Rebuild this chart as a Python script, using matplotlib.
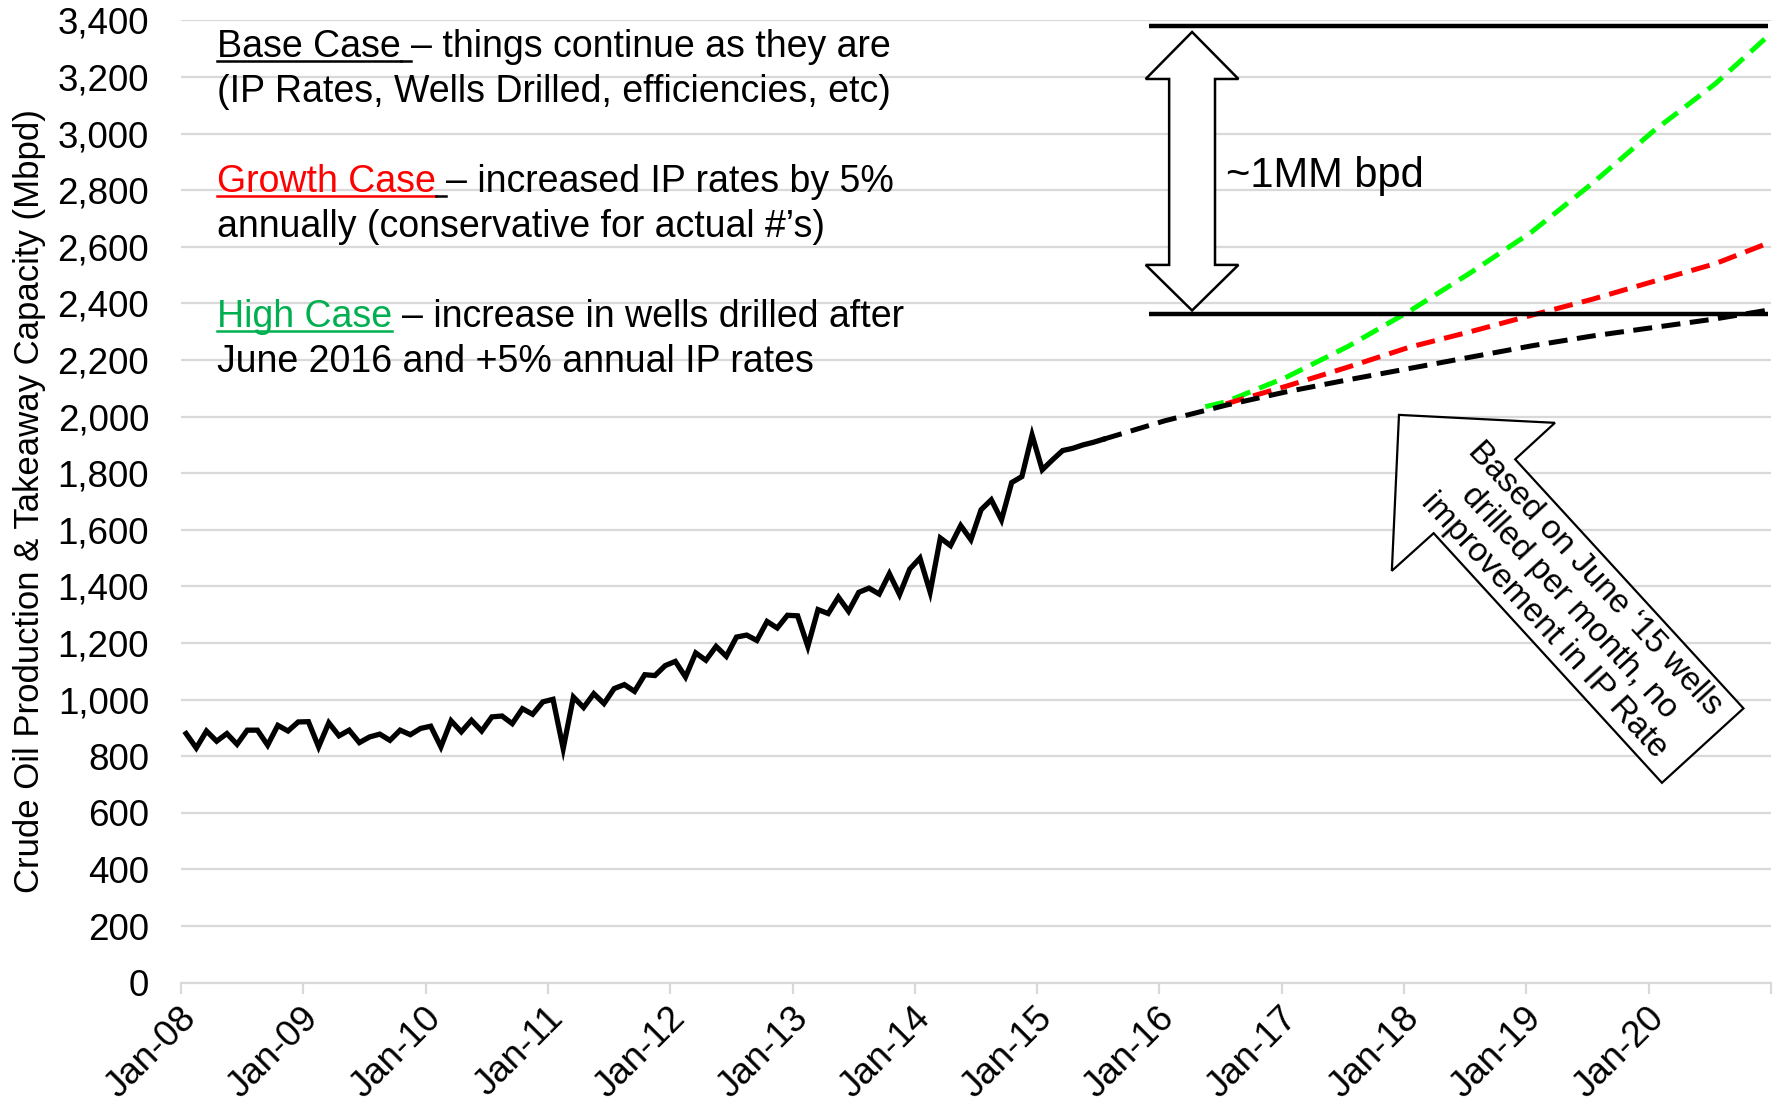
import numpy as np
import matplotlib
matplotlib.use("Agg")
import matplotlib.pyplot as plt
from matplotlib.patches import Polygon
from matplotlib.lines import Line2D
from matplotlib.transforms import ScaledTranslation

plt.rcParams['font.family'] = ['Liberation Sans', 'DejaVu Sans']

# monthly production, Jan-08 .. Jul-15 (Mbpd)
hist = [880, 829, 889, 853, 880, 842, 892, 892, 839, 909, 889, 921,
        922, 833, 918, 872, 892, 848, 868, 878, 856, 892, 876, 898,
        906, 833, 925, 886, 927, 889, 939, 942, 915, 968, 948, 992,
        1001, 827, 1009, 972, 1021, 986, 1039, 1053, 1029, 1088, 1085, 1120,
        1135, 1080, 1165, 1139, 1188, 1153, 1221, 1228, 1209, 1276, 1253, 1298,
        1296, 1188, 1318, 1304, 1362, 1312, 1379, 1394, 1373, 1445, 1371, 1461,
        1500, 1380, 1571, 1544, 1615, 1565, 1671, 1706, 1635, 1767, 1788, 1935,
        1812, 1847, 1880, 1888, 1900, 1909, 1920]

# projections (month index from Jan-08)
base_m = [90, 96, 102, 108, 114, 120, 126, 132, 138, 144, 150, 155]
base_v = [1920, 1985, 2040, 2088, 2130, 2170, 2210, 2250, 2285, 2315, 2345, 2375]
growth_m = [102, 108, 114, 120, 126, 132, 138, 144, 150, 155]
growth_v = [2045, 2108, 2175, 2245, 2300, 2358, 2415, 2478, 2540, 2610]
high_m = [100, 102, 108, 114, 120, 126, 132, 138, 144, 150, 155]
high_v = [2035, 2052, 2140, 2248, 2372, 2508, 2652, 2825, 3010, 3175, 3338]

year_labels = ['Jan-08', 'Jan-09', 'Jan-10', 'Jan-11', 'Jan-12', 'Jan-13', 'Jan-14',
               'Jan-15', 'Jan-16', 'Jan-17', 'Jan-18', 'Jan-19', 'Jan-20', '']

# takeaway capacity levels
cap_low = 2362
cap_high = 3380

W, H = 1777, 1109
fig = plt.figure(figsize=(W / 100, H / 100), dpi=100)
ax = fig.add_axes([181 / W, 1 - 982.6 / H, 1590 / W, 962.2 / H])

GRID = '#D9D9D9'
off = 0.5

ax.plot(np.arange(len(hist)) + off, hist, color='black', lw=3.8, solid_joinstyle='miter', zorder=5)
ax.plot(np.array(high_m) + off, high_v, color='#00FF00', lw=3.6, dashes=(3.8, 1.9),
        dash_capstyle='butt', zorder=3)
ax.plot(np.array(growth_m) + off, growth_v, color='#FF0000', lw=3.6, dashes=(3.8, 1.9),
        dash_capstyle='butt', zorder=4)
ax.plot(np.array(base_m) + off, base_v, color='black', lw=3.6, dashes=(3.8, 1.9),
        dash_capstyle='butt', zorder=5)

ax.set_xlim(0, 156)
ax.set_ylim(0, 3400)
ax.set_yticks(np.arange(0, 3401, 200))
ax.set_yticklabels(['{:,}'.format(v) for v in range(0, 3401, 200)])
ax.set_xticks(np.arange(0, 157, 12))
ax.set_xticklabels(year_labels, rotation=45, ha='right', va='center', rotation_mode='anchor')
ax.grid(axis='y', color=GRID, lw=1.6)
ax.set_axisbelow(True)
for s in ['top', 'right', 'left']:
    ax.spines[s].set_visible(False)
ax.spines['bottom'].set_color(GRID)
ax.spines['bottom'].set_linewidth(1.6)
ax.tick_params(axis='y', length=0, pad=23, labelsize=26.5)
ax.tick_params(axis='x', length=8, width=1.6, color=GRID, pad=14, labelsize=26.5)
for lab in ax.get_xticklabels():
    lab.set_transform(lab.get_transform() + ScaledTranslation(0.10, 0, fig.dpi_scale_trans))

ax.set_ylabel('Crude Oil Production & Takeaway Capacity (Mbpd)', fontsize=25)
ax.yaxis.set_label_coords(-0.085, 0.5)

# capacity lines and the double arrow
ax.plot([95, 155.7], [cap_high, cap_high], color='black', lw=3.2, solid_capstyle='butt', clip_on=False, zorder=6)
ax.plot([95, 155.7], [cap_low, cap_low], color='black', lw=3.2, solid_capstyle='butt', clip_on=False, zorder=6)

cx, hw, sw = 99.2, 4.55, 2.25
tip_top, base_top, base_bot, tip_bot = 3359, 3193, 2536, 2375
arrow_pts = [(cx, tip_top), (cx + hw, base_top), (cx + sw, base_top), (cx + sw, base_bot),
             (cx + hw, base_bot), (cx, tip_bot), (cx - hw, base_bot), (cx - sw, base_bot),
             (cx - sw, base_top), (cx - hw, base_top)]
ax.add_patch(Polygon(arrow_pts, closed=True, facecolor='white', edgecolor='black', lw=1.8, zorder=7))
ax.text(102.5, 2812, '~1MM bpd', fontsize=30, va='baseline', ha='left', zorder=8)

# block arrow with note
block_pts = [(119.5, 2006), (134.8, 1978), (130.9, 1849), (153.3, 969),
             (145.3, 706), (122.9, 1588), (118.8, 1455)]
ax.add_patch(Polygon(block_pts, closed=True, facecolor='white', edgecolor='black', lw=1.6, zorder=7))
ax.text(136.2, 1345, 'Based on June \u201815 wells\ndrilled per month, no\nimprovement in IP Rate',
        fontsize=24, rotation=-47.4, rotation_mode='anchor', ha='center', va='center',
        multialignment='center', linespacing=1.15, zorder=8)

# description text with underlined case names
renderer = fig.canvas.get_renderer()
FS = 27


def text_width(s):
    t = fig.text(0, 0, s, fontsize=FS)
    w = t.get_window_extent(renderer).width
    t.remove()
    return w


space_w = text_width('a a') - text_width('aa')


def underline(x0, x1, y, color):
    fig.add_artist(Line2D([x0 / W, x1 / W], [1 - (y + 4) / H, 1 - (y + 4) / H],
                          color=color, lw=1.8, transform=fig.transFigure))


def write_line(segments, x, y):
    for txt, color, ul, ul_space in segments:
        fig.text(x / W, 1 - y / H, txt, color=color, fontsize=FS, va='baseline', ha='left')
        w = text_width(txt)
        if ul:
            underline(x, x + w, y, color)
        if ul_space:
            underline(x + w, x + w + space_w, y, 'black')
        x += w + space_w


X0 = 217
write_line([('Base Case', 'black', True, True), ('\u2013 things continue as they are', 'black', False, False)], X0, 57)
write_line([('(IP Rates, Wells Drilled, efficiencies, etc)', 'black', False, False)], X0, 102)
write_line([('Growth Case', '#FF0000', True, True), ('\u2013 increased IP rates by 5%', 'black', False, False)], X0, 192)
write_line([('annually (conservative for actual #\u2019s)', 'black', False, False)], X0, 237)
write_line([('High Case', '#00B050', True, False), ('\u2013 increase in wells drilled after', 'black', False, False)], X0, 327)
write_line([('June 2016 and +5% annual IP rates', 'black', False, False)], X0, 372)

fig.savefig('out.png', dpi=100)
